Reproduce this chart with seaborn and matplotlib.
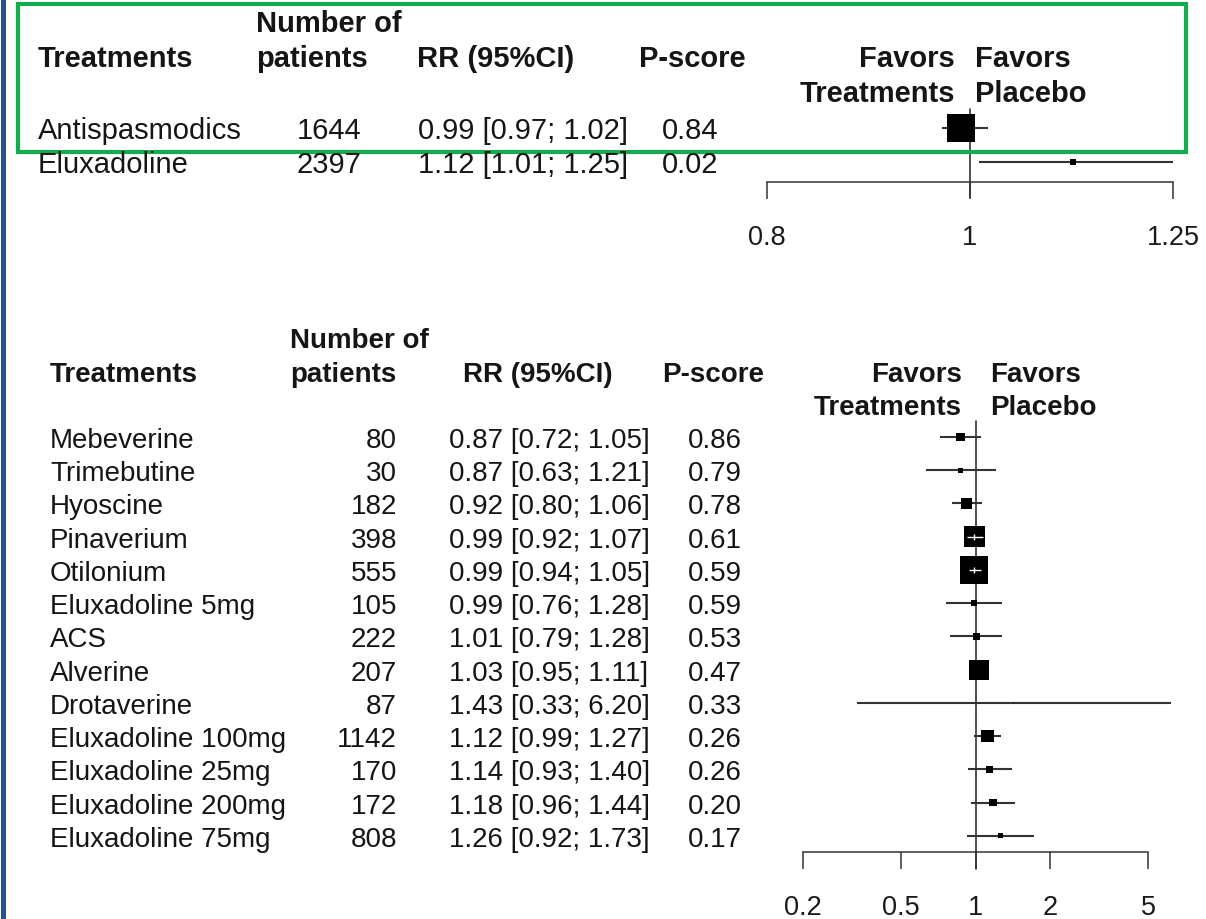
import numpy as np
import pandas as pd
import matplotlib
matplotlib.use("Agg")
import matplotlib.pyplot as plt
from matplotlib.patches import Rectangle
from matplotlib.ticker import NullLocator
import seaborn as sns

# ---- data: pooled comparison (top) ----
top_names = ["Antispasmodics", "Eluxadoline"]
top_n = [1644, 2397]
top_rr = [0.99, 1.12]
top_lo = [0.97, 1.01]
top_hi = [1.02, 1.25]
top_p = [0.84, 0.02]
top_ticks = [0.8, 1, 1.25]
top_ticklabels = ["0.8", "1", "1.25"]

# ---- data: individual treatments (bottom) ----
bot_names = ["Mebeverine", "Trimebutine", "Hyoscine", "Pinaverium", "Otilonium",
             "Eluxadoline 5mg", "ACS", "Alverine", "Drotaverine", "Eluxadoline 100mg",
             "Eluxadoline 25mg", "Eluxadoline 200mg", "Eluxadoline 75mg"]
bot_n = [80, 30, 182, 398, 555, 105, 222, 207, 87, 1142, 170, 172, 808]
bot_rr = [0.87, 0.87, 0.92, 0.99, 0.99, 0.99, 1.01, 1.03, 1.43, 1.12, 1.14, 1.18, 1.26]
bot_lo = [0.72, 0.63, 0.80, 0.92, 0.94, 0.76, 0.79, 0.95, 0.33, 0.99, 0.93, 0.96, 0.92]
bot_hi = [1.05, 1.21, 1.06, 1.07, 1.05, 1.28, 1.28, 1.11, 6.20, 1.27, 1.40, 1.44, 1.73]
bot_p = [0.86, 0.79, 0.78, 0.61, 0.59, 0.59, 0.53, 0.47, 0.33, 0.26, 0.26, 0.20, 0.17]
bot_ticks = [0.2, 0.5, 1, 2, 5]
bot_ticklabels = ["0.2", "0.5", "1", "2", "5"]

W, H = 1206, 920
LINE = "#333333"

sns.set_theme(style="white")
plt.rcParams["font.family"] = ["Liberation Sans", "DejaVu Sans"]

fig = plt.figure(figsize=(W / 100, H / 100), dpi=100)
fig.patch.set_facecolor("white")


def px_axes(x0, y0, x1, y1, z=1):
    ax = fig.add_axes([x0 / W, 1 - y1 / H, (x1 - x0) / W, (y1 - y0) / H], zorder=z)
    ax.set_facecolor("none")
    return ax


def log_lim(va, pa, vb, pb, x0, x1):
    k = (pb - pa) / (np.log(vb) - np.log(va))
    return (np.exp(np.log(va) + (x0 - pa) / k), np.exp(np.log(va) + (x1 - pa) / k)), k


def forest(box, anchors, row0, step, names, rr, lo, hi, ticks, ticklabels,
           ref_px, max_side, fsize):
    x0, y0, x1, y1 = box
    ax = px_axes(x0, y0, x1, y1)
    xlim, k = log_lim(*anchors, x0, x1)
    rows = np.arange(len(names))
    se = (np.log(hi) - np.log(lo)) / (2 * 1.96)
    side = max_side * se.min() / se          # box area ~ inverse variance
    df = pd.DataFrame({"name": names, "rr": rr, "row": rows})
    sizes = {n: (s * 0.72) ** 2 for n, s in zip(names, side)}

    ax.plot([1, 1], [(ref_px[0] - row0) / step, (ref_px[1] - row0) / step],
            color=LINE, lw=1.2, clip_on=False, zorder=1)
    ax.hlines(rows, lo, hi, color=LINE, lw=1.5, zorder=2)
    sns.scatterplot(data=df, x="rr", y="row", size="name", sizes=sizes, marker="s",
                    color="black", linewidth=0, legend=False, ax=ax, zorder=3)
    # CI hidden inside a large box is drawn in white
    ci_px = (np.log(hi) - np.log(lo)) * k
    inside = ci_px < 0.8 * side
    if inside.any():
        ax.hlines(rows[inside], np.array(lo)[inside], np.array(hi)[inside],
                  color="white", lw=1.0, zorder=4)
        ax.scatter(np.array(rr)[inside], rows[inside], marker="|", s=20,
                   color="white", linewidths=1.0, zorder=4)

    ax.set_xscale("log")
    ax.set_xlim(*xlim)
    ax.set_ylim((y1 - row0) / step, (y0 - row0) / step)
    ax.set_xlabel("")
    ax.set_ylabel("")
    for s in ["top", "left", "right"]:
        ax.spines[s].set_visible(False)
    ax.spines["bottom"].set_bounds(ticks[0], ticks[-1])
    ax.spines["bottom"].set_color(LINE)
    ax.spines["bottom"].set_linewidth(1.1)
    ax.set_xticks(ticks)
    ax.set_xticklabels(ticklabels)
    ax.xaxis.set_minor_locator(NullLocator())
    ax.set_yticks([])
    ax.tick_params(axis="x", direction="out", length=12, width=1.1, color=LINE,
                   labelcolor="#1a1a1a", labelsize=fsize, pad=18, bottom=True)
    return ax


forest((740, 100, 1200, 183), (0.8, 767, 1.25, 1173), 129, 34,
       top_names, top_rr, top_lo, top_hi, top_ticks, top_ticklabels,
       (110, 198), 28, 19.5)
forest((780, 410, 1200, 853), (0.2, 803, 5, 1148), 438, 33.24,
       bot_names, bot_rr, bot_lo, bot_hi, bot_ticks, bot_ticklabels,
       (422, 870), 28, 19.5)

# ---- text table overlay in pixel coordinates ----
tab = px_axes(0, 0, W, H, z=5)
tab.set_xlim(0, W)
tab.set_ylim(H, 0)
tab.axis("off")

TXT = "#151515"


def put(x, yc, s, size, ha="left", bold=False):
    # yc = vertical centre of capitals
    tab.text(x, yc + 0.358 * size * 100 / 72, s, fontsize=size, ha=ha, va="baseline",
             color=TXT, fontweight="bold" if bold else "normal")


def table(fs, name_x, n_hdr_x, n_x, rr_x, rr_hdr_x, p_x, p_hdr_x,
          fav_r, fav_l, y_num, y_hdr, y_fav2, row0, step, names, n, rr, lo, hi, p):
    put(name_x, y_hdr, "Treatments", fs, bold=True)
    put(n_hdr_x, y_num, "Number of", fs, bold=True)
    put(n_hdr_x, y_hdr, "patients", fs, bold=True)
    put(rr_hdr_x, y_hdr, "RR (95%CI)", fs, bold=True)
    put(p_hdr_x, y_hdr, "P-score", fs, ha="center", bold=True)
    put(fav_r, y_hdr, "Favors", fs, ha="right", bold=True)
    put(fav_r, y_fav2, "Treatments", fs, ha="right", bold=True)
    put(fav_l, y_hdr, "Favors", fs, bold=True)
    put(fav_l, y_fav2, "Placebo", fs, bold=True)
    for i in range(len(names)):
        y = row0 + i * step
        put(name_x, y, names[i], fs)
        put(n_x, y, str(n[i]), fs, ha="right")
        put(rr_x, y, f"{rr[i]:.2f} [{lo[i]:.2f}; {hi[i]:.2f}]", fs)
        put(p_x, y, f"{p[i]:.2f}", fs, ha="center")


table(21, 38, 256, 361, 418, 417, 690, 692, 955, 975,
      22, 57, 92, 129, 34, top_names, top_n, top_rr, top_lo, top_hi, top_p)
table(20, 50, 290, 397, 449, 463, 715, 713, 962, 990,
      338, 372, 405, 438, 33.24, bot_names, bot_n, bot_rr, bot_lo, bot_hi, bot_p)

# frame decorations
tab.add_patch(Rectangle((1, 0), 5, H, color="#2c5189", lw=0))
tab.add_patch(Rectangle((18, 5), 1167.5, 147.5, fill=False, ec="#12ab4f", lw=3))

fig.savefig("out.png", dpi=100, facecolor="white")
